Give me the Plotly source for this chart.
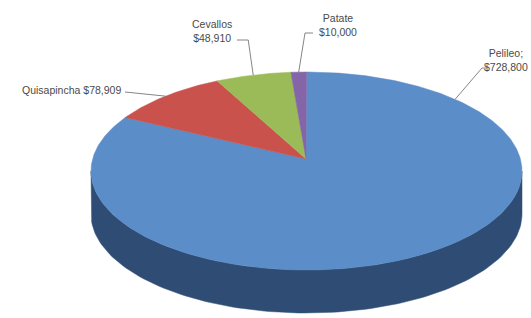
import numpy as np
import plotly.graph_objects as go

# ---- data ----
categories = ["Pelileo", "Quisapincha", "Cevallos", "Patate"]
values = [728800, 78909, 48910, 10000]
label_texts = ["Pelileo;<br>$728,800", "Quisapincha $78,909", "Cevallos<br>$48,910", "Patate<br>$10,000"]
top_colors = ["#5B8DC8", "#C9524D", "#9BBB59", "#8466A8"]
side_colors = ["#2F4D74", "#8A3331", "#6A8238", "#57426F"]

# ---- geometry of the projected pie ----
W, H = 531, 318
cx, cy = 306.5, 171.0
rx, ry = 215.5, 99.0
depth = 43.0
vx, vy = 306.0, 159.0  # apparent vertex (perspective)


def pt(t_deg, dy=0.0):
    t = np.radians(t_deg)
    return cx + rx * np.sin(t), cy - ry * np.cos(t) + dy


total = float(sum(values))
fracs = [v / total for v in values]
starts, ends = [], []
a = 0.0
for f in fracs:
    starts.append(a)
    a += f * 360.0
    ends.append(a)

fig = go.Figure()

# side walls (front half, 90..270 degrees)
for i, (s, e) in enumerate(zip(starts, ends)):
    lo, hi = max(s, 90.0), min(e, 270.0)
    if hi <= lo:
        continue
    ts = np.linspace(lo, hi, 120)
    xs_top, ys_top = pt(ts)
    xs_bot, ys_bot = pt(ts[::-1], depth)
    xs = np.concatenate([xs_top, xs_bot, xs_top[:1]])
    ys = np.concatenate([ys_top, ys_bot, ys_top[:1]])
    fig.add_trace(go.Scatter(x=xs, y=ys, mode="lines", fill="toself",
                             fillcolor=side_colors[i],
                             line=dict(color=side_colors[i], width=0.5),
                             hoverinfo="skip", showlegend=False))

# top surface wedges
for i, (s, e) in enumerate(zip(starts, ends)):
    ts = np.linspace(s, e, max(int((e - s) * 2), 6))
    ax_, ay_ = pt(ts)
    xs = np.concatenate([[vx], ax_, [vx]])
    ys = np.concatenate([[vy], ay_, [vy]])
    fig.add_trace(go.Scatter(x=xs, y=ys, mode="lines", fill="toself",
                             fillcolor=top_colors[i],
                             line=dict(color=top_colors[i], width=0.5),
                             name=categories[i],
                             text=f"{categories[i]}: ${values[i]:,}",
                             hoverinfo="text", showlegend=False))

# ---- labels and leader lines ----
line_col = "#666666"
font = dict(family="Liberation Sans, Arial, sans-serif", size=10.5, color="#4a4a4a")


def mid(i):
    return (starts[i] + ends[i]) / 2.0


def arc_point(angle):
    return pt(angle % 360)


# Pelileo
px, py = pt(43.6)
fig.add_trace(go.Scatter(x=[487, 482, px], y=[68, 68, py], mode="lines",
                         line=dict(color=line_col, width=0.8), hoverinfo="skip", showlegend=False))
fig.add_annotation(x=506, y=60, text=label_texts[0], showarrow=False, font=font,
                   xanchor="center", yanchor="middle", align="center")
# Quisapincha
qx, qy = arc_point(mid(1))
fig.add_trace(go.Scatter(x=[125, qx], y=[92, qy], mode="lines",
                         line=dict(color=line_col, width=0.8), hoverinfo="skip", showlegend=False))
fig.add_annotation(x=123, y=90, text=label_texts[1], showarrow=False, font=font,
                   xanchor="right", yanchor="middle")
# Cevallos
gx, gy = arc_point(mid(2))
fig.add_trace(go.Scatter(x=[237, gx - 5, gx], y=[40, 40, gy], mode="lines",
                         line=dict(color=line_col, width=0.8), hoverinfo="skip", showlegend=False))
fig.add_annotation(x=212, y=31, text=label_texts[2], showarrow=False, font=font,
                   xanchor="center", yanchor="middle", align="center")
# Patate
ptx, pty = arc_point(mid(3))
fig.add_trace(go.Scatter(x=[313, 305, ptx], y=[33, 33, pty], mode="lines",
                         line=dict(color=line_col, width=0.8), hoverinfo="skip", showlegend=False))
fig.add_annotation(x=338, y=25, text=label_texts[3], showarrow=False, font=font,
                   xanchor="center", yanchor="middle", align="center")

fig.update_layout(
    width=W, height=H,
    margin=dict(l=0, r=0, t=0, b=0),
    paper_bgcolor="white", plot_bgcolor="white",
    xaxis=dict(range=[0, W], visible=False, fixedrange=True),
    yaxis=dict(range=[H, 0], visible=False, fixedrange=True),
)

fig.write_html("out.html", config={"displayModeBar": False},
               post_script="document.body.style.margin='0';document.body.style.overflow='hidden';")
